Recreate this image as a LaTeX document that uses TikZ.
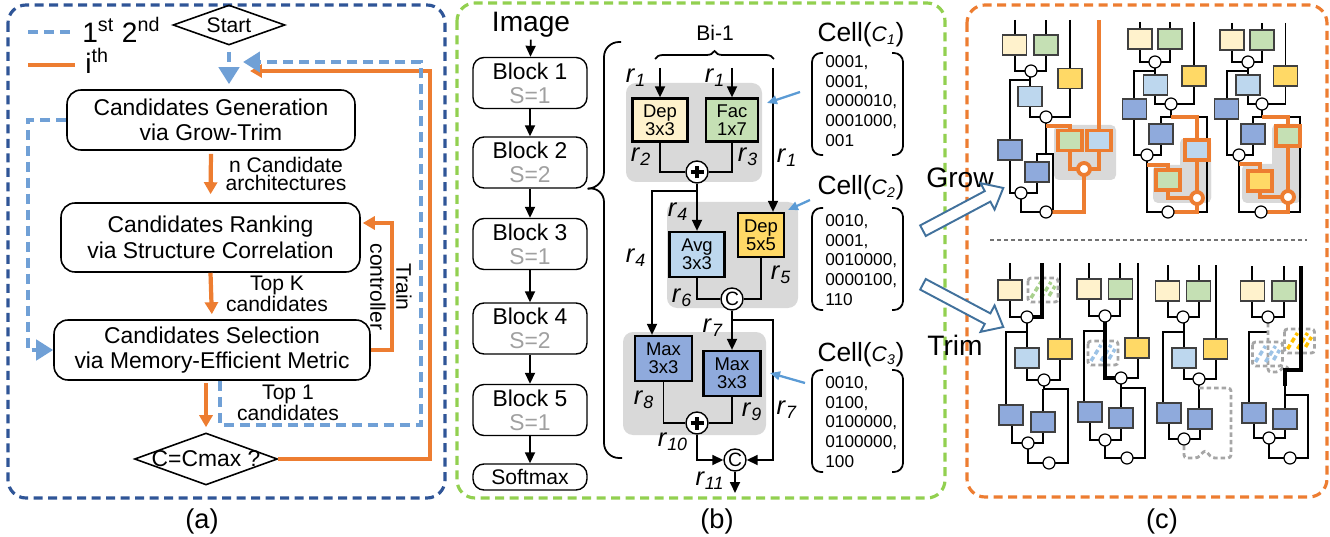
\documentclass[tikz,border=0pt]{standalone}
\usepackage{fontspec}
\setmainfont{Liberation Sans}
\usetikzlibrary{arrows.meta,calc,shapes.geometric,shapes.arrows,decorations.pathreplacing}

\definecolor{frameA}{HTML}{2F5597}
\definecolor{frameB}{HTML}{92D050}
\definecolor{frameC}{HTML}{ED7D31}
\definecolor{firstpass}{HTML}{70A0D6}
\definecolor{ithpass}{HTML}{ED7D31}
\definecolor{opdep}{HTML}{FFF2CC}
\definecolor{opfac}{HTML}{C5E0B4}
\definecolor{opdepb}{HTML}{FFD966}
\definecolor{opavg}{HTML}{BDD7EE}
\definecolor{opmax}{HTML}{8FAADC}
\definecolor{cellbg}{HTML}{D9D9D9}
\definecolor{pointer}{HTML}{5B9BD5}
\definecolor{hollowblue}{HTML}{41719C}
\definecolor{stride}{HTML}{A0A0A0}
\definecolor{gonegray}{HTML}{A6A6A6}
\definecolor{hatchfac}{HTML}{A9D18E}
\definecolor{hatchavg}{HTML}{9DC3E6}
\definecolor{hatchdep}{HTML}{FFC000}

\newcommand\fsz[2]{\fontsize{#1}{#2}\selectfont}
\newcommand\rr[1]{\textit{r}\textsubscript{\textit{#1}}}
\newcommand\cellnm[1]{Cell({\fsz{12}{14}\textit{C}\textsubscript{\textit{#1}}})}
% small networks of panel (c)
\newcommand\netbox[3]{\draw[nbox,fill=#3] (#1-12,#2-10) rectangle (#1+12,#2+10);}
\newcommand\grownbox[3]{\draw[obox,fill=#3] (#1-12,#2-10) rectangle (#1+12,#2+10);}
\newcommand\gonebox[3]{\draw[gone] (#1-15,#2-12) rectangle (#1+15,#2+12);
  \draw[#3,line width=2pt,dash pattern=on 0.1cm off 0.06cm] (#1-12,#2+8) -- (#1-2,#2-8) (#1-2,#2+8) -- (#1+8,#2-8) (#1+6,#2+6) -- (#1+12,#2-4);}
\newcommand\junc[2]{\draw[nline,fill=white] (#1,#2) circle (0.12cm);}
\newcommand\ojunc[2]{\draw[mline,fill=white] (#1,#2) circle (0.12cm);}

\tikzset{
  stepbox/.style={draw, rounded corners=0.28cm, line width=0.9pt, align=center, font=\fsz{13}{14.5}, inner sep=0},
  decision/.style={draw, diamond, line width=0.9pt, inner sep=0},
  oarr/.style={draw=ithpass, line width=2.4pt, -{Triangle[width=0.26cm,length=0.24cm]}},
  oline/.style={draw=ithpass, line width=2.4pt},
  barr/.style={draw=firstpass, line width=2.4pt, dash pattern=on 0.2cm off 0.12cm, -{Triangle[width=0.4cm,length=0.34cm]}},
  bline/.style={draw=firstpass, line width=2.4pt, dash pattern=on 0.2cm off 0.12cm},
  edgelbl/.style={align=center, font=\fsz{12}{10.5}, inner sep=0},
  panelframe/.style={line width=1.8pt, rounded corners=0.36cm, dash pattern=on 0.18cm off 0.11cm},
  blockbox/.style={draw, rounded corners=0.22cm, line width=0.8pt, minimum width=2.28cm, minimum height=1.02cm, align=center, font=\fsz{13}{13.5}, inner sep=0},
  opbox/.style={draw, line width=1.3pt, align=center, font=\fsz{10.5}{10.5}, inner sep=0},
  junc/.style={circle, draw, fill=white, line width=0.8pt, minimum size=0.44cm, inner sep=0, font=\fsz{11}{11}},
  plusj/.style={junc, path picture={\draw[line width=1.9pt]
      ([xshift=-0.13cm]path picture bounding box.center) -- ([xshift=0.13cm]path picture bounding box.center)
      ([yshift=-0.13cm]path picture bounding box.center) -- ([yshift=0.13cm]path picture bounding box.center);}},
  arr/.style={line width=1pt, -{Triangle[width=0.2cm,length=0.22cm]}},
  wire/.style={line width=1pt},
  rlab/.style={font=\fsz{14.5}{14.5}, inner sep=0},
  bits/.style={font=\fsz{9.8}{9.8}, inner sep=0, anchor=west},
  ptr/.style={draw=pointer, line width=1.3pt, -{Triangle[width=0.17cm,length=0.2cm]}},
  bgcell/.style={fill=cellbg, rounded corners=0.2cm},
  nline/.style={line width=0.7pt},
  nbox/.style={draw=black!75, line width=0.8pt},
  obox/.style={draw=ithpass, line width=2.2pt},
  mline/.style={draw=ithpass, line width=2.2pt},
  gone/.style={draw=gonegray, line width=1.6pt, dash pattern=on 0.09cm off 0.06cm, rounded corners=0.06cm},
  trimpath/.style={line width=2.3pt},
  hollowarr/.style={single arrow, draw=hollowblue, fill=white, line width=1.1pt, minimum height=1.82cm,
      minimum width=0.56cm, single arrow head extend=0.18cm, inner sep=0.1cm, single arrow tip angle=80},
  plabel/.style={font=\fsz{15.5}{15.5}}
}

\begin{document}
\begin{tikzpicture}[x=0.02cm,y=-0.02cm]
\useasboundingbox (0,0) rectangle (1330,537);

%%%%% (a) search flow %%%%%
\draw[panelframe, draw=frameA] (8,5) rectangle (445,498);

\draw[bline] (28,32) -- (75,32);
\node[anchor=west, font=\fsz{16}{16}, inner sep=0] (leg1) at (82,30) {1\textsuperscript{st} 2\textsuperscript{nd}};
\draw[oline] (28,65) -- (75,65);
\node[anchor=west, font=\fsz{16}{16}, inner sep=0] (leg2) at (85,61) {i\textsuperscript{th}};

\node[decision, minimum width=2.24cm, minimum height=0.8cm] (start) at (229,25) {};
\node[font=\fsz{12}{12}] (starttxt) at (start) {Start};
\node[stepbox, minimum width=5.76cm, minimum height=1.2cm] (gen) at (211,120) {Candidates Generation\\via Grow-Trim};
\node[stepbox, minimum width=5.98cm, minimum height=1.38cm] (rank) at (210.5,237.5) {Candidates Ranking\\via Structure Correlation};
\node[stepbox, minimum width=6.32cm, minimum height=1.2cm] (sel) at (212,350) {Candidates Selection\\via Memory-Efficient Metric};
\node[decision, minimum width=2.86cm, minimum height=1.04cm] (cmax) at (206,459) {};
\node[font=\fsz{13}{13}] (cmaxtxt) at (cmax) {C=Cmax ?};

\draw[oarr, shorten <=0.06cm, shorten >=0.16cm] (gen.south) -- (rank.north);
\draw[oarr, shorten >=0.1cm] (rank.south) -- (sel.north);
\draw[oarr, shorten <=0.04cm, shorten >=0.1cm] (sel.south -| cmax.north) -- (cmax.north);
\node[edgelbl] (lgen) at (286,174) {n Candidate\\architectures};
\node[edgelbl] (lrank) at (277,294) {Top K\\candidates};
\node[edgelbl] (lsel) at (288,403) {Top 1\\candidates};

% train controller
\coordinate (trn) at (392,223);
\draw[oarr, shorten >=0.04cm] (sel.east) -| (trn) -- (trn -| rank.east);
\node[font=\fsz{12}{12}, rotate=-90, inner sep=0] (lctrl) at (378,287) {controller};
\node[font=\fsz{12}{12}, rotate=-90, inner sep=0] (ltrain) at (404,287) {Train};

% loops back to generation
\coordinate (ocorner) at (430,71);
\coordinate (oback) at (250,71);
\draw[oarr] (cmax.east) -| (ocorner) -- (oback);
\coordinate (bdrop) at (220,425);
\coordinate (bcorner) at (421,62);
\coordinate (bback) at (243,62);
\draw[barr] (bdrop |- sel.south) -- (bdrop) -| (bcorner) -- (bback);
\coordinate (bleft) at (28,120);
\draw[barr] (gen.west) -- (bleft) |- (sel.west);
\draw[barr, shorten <=0.12cm, shorten >=0.1cm] (start.south) -- (start.south |- gen.north);

\node[plabel] (capa) at (202,521) {(a)};

%%%%% (b) network and cells %%%%%
\draw[panelframe, draw=frameB] (457,3) rectangle (945,498);

\node[font=\fsz{16}{16}, inner sep=1pt] (img) at (531,25) {Image};
\node[blockbox] (b1) at (530,83) {Block 1\\\textcolor{stride}{S=1}};
\node[blockbox] (b2) at (530,162.5) {Block 2\\\textcolor{stride}{S=2}};
\node[blockbox] (b3) at (530,244) {Block 3\\\textcolor{stride}{S=1}};
\node[blockbox] (b4) at (530,328.5) {Block 4\\\textcolor{stride}{S=2}};
\node[blockbox] (b5) at (530,410) {Block 5\\\textcolor{stride}{S=1}};
\node[blockbox, minimum height=0.52cm, font=\fsz{12}{12}] (smax) at (530,477) {Softmax};
\foreach \a/\b in {img/b1,b1/b2,b2/b3,b3/b4,b4/b5,b5/smax}
  \draw[arr] (\a) -- (\b);

\draw[wire, rounded corners=0.3cm] (621,42) -- (604,42) -- (604,187) -- (b2.south east);
\draw[wire, rounded corners=0.3cm] (b2.south east) -- (604,187) -- (604,458) -- (622,458);

\fill[bgcell] (626,83) rectangle (762,182);
\fill[bgcell] (667,202) rectangle (798,308);
\fill[bgcell] (623,332) rectangle (766,435);

\draw[wire, decorate, decoration={brace, amplitude=0.16cm}] (655,59) -- (774,59);
\node[font=\fsz{12}{12}] (bilbl) at (715,33) {Bi-1};

\node[opbox, fill=opdep, minimum width=1.1cm, minimum height=0.86cm] (dep3) at (660,120) {Dep\\3x3};
\node[opbox, fill=opfac, minimum width=1.04cm, minimum height=0.86cm] (fac7) at (732,120) {Fac\\1x7};
\node[plusj] (add1) at (697,172) {};
\node[opbox, fill=opavg, minimum width=1.1cm, minimum height=0.9cm] (avg3) at (697,254.5) {Avg\\3x3};
\node[opbox, fill=opdepb, minimum width=0.92cm, minimum height=0.88cm] (dep5) at (761,235) {Dep\\5x5};
\node[junc] (cat1) at (732,299) {C};
\node[opbox, fill=opmax, minimum width=1.14cm, minimum height=0.9cm] (maxa) at (663.5,358.5) {Max\\3x3};
\node[opbox, fill=opmax, minimum width=1.14cm, minimum height=0.9cm] (maxb) at (732,373.5) {Max\\3x3};
\node[plusj] (add2) at (697,423) {};
\node[junc] (cat2) at (735,460) {C};

\coordinate (in1) at (660,68);
\coordinate (in2) at (732,68);
\coordinate (in3) at (773,68);
\draw[arr] (in1) -- (dep3);
\draw[arr] (in2) -- (fac7);
\draw[arr] (in3) -- (in3 |- dep5.north);
\draw[wire] (dep3) |- (add1);
\draw[wire] (fac7) |- (add1);
\draw[arr] (add1) -- (avg3);
\coordinate (fork4) at (697,191);
\coordinate (drop4) at (652,191);
\draw[arr] (fork4) -- (drop4) -- (drop4 |- maxa.north);
\draw[wire] (avg3) |- (cat1);
\draw[wire] (dep5) |- (cat1);
\draw[arr] (cat1) -- (maxb);
\coordinate (fork7) at (732,320);
\coordinate (skip7) at (773,320);
\draw[arr] (fork7) -- (skip7) |- (cat2);
\draw[wire] (maxa) |- (add2);
\draw[wire] (maxb) |- (add2);
\draw[arr] (add2) |- (cat2);
\coordinate (outr) at (735,493);
\draw[arr] (cat2) -- (outr);

\node[rlab] (r1a) at (636,78) {\rr{1}};
\node[rlab] (r1b) at (715,78) {\rr{1}};
\node[rlab] (r1c) at (787,158) {\rr{1}};
\node[rlab] (r2) at (641,157) {\rr{2}};
\node[rlab] (r3) at (748,157) {\rr{3}};
\node[rlab] (r4a) at (678,212) {\rr{4}};
\node[rlab] (r4b) at (636,258) {\rr{4}};
\node[rlab] (r5) at (781,275) {\rr{5}};
\node[rlab] (r6) at (682,298) {\rr{6}};
\node[rlab] (r7a) at (713,328) {\rr{7}};
\node[rlab] (r7b) at (787,410) {\rr{7}};
\node[rlab] (r8) at (644,400) {\rr{8}};
\node[rlab] (r9) at (752,412) {\rr{9}};
\node[rlab] (r10) at (673,442) {\rr{10}};
\node[rlab] (r11) at (710,481) {\rr{11}};

% cell encodings
\node[font=\fsz{15}{15}, inner sep=0] (cn1) at (861,35) {\cellnm{1}};
\node[font=\fsz{15}{15}, inner sep=0] (cn2) at (861,188) {\cellnm{2}};
\node[font=\fsz{15}{15}, inner sep=0] (cn3) at (861,355) {\cellnm{3}};
\foreach \top/\bot in {53/155,208/310,370/472}{
  \draw[wire, rounded corners=0.18cm] (823,\top) -- (812,\top) -- (812,\bot) -- (823,\bot);
  \draw[wire, rounded corners=0.18cm] (892,\top) -- (903,\top) -- (903,\bot) -- (892,\bot);
}
\foreach \t [count=\i from 0] in {{0001,},{0001,},{0000010,},{0001000,},{001}}
  \node[bits] (ca\i) at (825,63+19.5*\i) {\t};
\foreach \t [count=\i from 0] in {{0010,},{0001,},{0010000,},{0000100,},{110}}
  \node[bits] (cb\i) at (825,222+19.5*\i) {\t};
\foreach \t [count=\i from 0] in {{0010,},{0100,},{0100000,},{0100000,},{100}}
  \node[bits] (cc\i) at (825,384+19.5*\i) {\t};

\coordinate (p1s) at (800,92);  \coordinate (p1e) at (767,103);
\coordinate (p2s) at (810,200); \coordinate (p2e) at (788,210);
\coordinate (p3s) at (805,383); \coordinate (p3e) at (770,373);
\draw[ptr] (p1s) -- (p1e);
\draw[ptr] (p2s) -- (p2e);
\draw[ptr] (p3s) -- (p3e);

\node[plabel] (capb) at (717,521) {(b)};

%%%%% (c) grow and trim %%%%%
\draw[panelframe, draw=frameC] (967,5) rectangle (1327,497);

\node[font=\fsz{16}{16}] (grow) at (960,178) {Grow};
\node[font=\fsz{16}{16}] (trim) at (955,345) {Trim};
\node[hollowarr, rotate=28] (growarr) at (960,211) {};
\node[hollowarr, rotate=-28] (trimarr) at (960,304) {};
\draw[black!55, line width=1.1pt, dash pattern=on 0.08cm off 0.06cm] (990,240) -- (1307,240);

% grow 1
\fill[cellbg, rounded corners=0.1cm] (1054,125) rectangle (1116,180);
\draw[nline] (1015,20) -- (1015,71) -- (1046,71) -- (1046,20);
\draw[nline] (1070,20) -- (1070,117) -- (1030,117) -- (1030,71);
\draw[nline] (1031,80) -- (1010,80) -- (1010,193) -- (1037,193) -- (1037,154) -- (1053,154) -- (1053,212) -- (1021,212) -- (1021,193);
\draw[nline] (1046,117) -- (1046,154);
\draw[mline] (1099,20) -- (1099,169) -- (1070,169) -- (1070,126) -- (1046,126);
\draw[mline] (1084,169) -- (1084,212) -- (1052,212);
\netbox{1014.5}{45}{opdep} \netbox{1046}{45}{opfac} \netbox{1070}{78.5}{opdepb}
\netbox{1030}{96.5}{opavg} \netbox{1010}{150}{opmax} \netbox{1037}{172}{opmax}
\grownbox{1070}{140.5}{opfac} \grownbox{1099}{140.5}{opavg}
\junc{1031}{71} \junc{1046}{117} \junc{1021}{193} \junc{1046}{212} \ojunc{1084}{169}

% grow 2
\fill[cellbg, rounded corners=0.1cm] (1153,165) rectangle (1211,203);
\fill[cellbg, rounded corners=0.1cm] (1180,138) rectangle (1211,203);
\draw[nline] (1140,22) -- (1140,62) -- (1170,62) -- (1170,22);
\draw[nline] (1194,22) -- (1194,104) -- (1155,104) -- (1155,62);
\draw[nline] (1155,71) -- (1134,71) -- (1134,155) -- (1161,155) -- (1161,117) -- (1207,117) -- (1207,212) -- (1147,212) -- (1147,155);
\draw[nline] (1171,104) -- (1171,117);
\draw[mline] (1171,117) -- (1197,117) -- (1197,212) -- (1173,212);
\draw[mline] (1147,165) -- (1168,165) -- (1168,198) -- (1197,198);
\netbox{1140}{39}{opdep} \netbox{1170}{39}{opfac} \netbox{1194}{76}{opdepb}
\netbox{1155.5}{85}{opavg} \netbox{1134.5}{109}{opmax} \netbox{1161}{134}{opmax}
\grownbox{1168}{180}{opfac} \grownbox{1197}{150}{opavg}
\junc{1155}{62} \junc{1171}{104} \junc{1147}{155} \junc{1168}{212} \ojunc{1197}{198}

% grow 3
\fill[cellbg, rounded corners=0.1cm] (1242,164) rectangle (1301,203);
\fill[cellbg, rounded corners=0.1cm] (1272,124) rectangle (1301,203);
\draw[nline] (1232,23) -- (1232,62) -- (1262,62) -- (1262,23);
\draw[nline] (1285.5,23) -- (1285.5,104) -- (1248,104) -- (1248,62);
\draw[nline] (1248,71) -- (1227,71) -- (1227,155) -- (1253,155) -- (1253,117) -- (1300,117) -- (1300,212) -- (1239,212) -- (1239,155);
\draw[nline] (1262,104) -- (1262,117);
\draw[mline] (1262,117) -- (1288,117) -- (1288,212) -- (1266,212);
\draw[mline] (1239,164) -- (1260,164) -- (1260,197) -- (1288,197);
\netbox{1232}{40}{opdep} \netbox{1262}{40}{opfac} \netbox{1285.5}{76}{opdepb}
\netbox{1248}{85}{opavg} \netbox{1226.5}{109}{opmax} \netbox{1253}{134}{opmax}
\grownbox{1288}{136}{opfac} \grownbox{1260}{181}{opdepb}
\junc{1248}{62} \junc{1262}{104} \junc{1239}{155} \junc{1261}{212} \ojunc{1288}{197}

% trim 1
\draw[nline] (1010,263) -- (1010,317) -- (1027,317);
\draw[nline] (1060,263) -- (1060,380) -- (1027,380) -- (1027,317);
\draw[nline] (1027,332) -- (1006,332) -- (1006,410);
\draw[nline] (1012,420) -- (1012,443) -- (1043,443) -- (1043,389);
\draw[nline] (1044,380) -- (1044,389) -- (1068,389) -- (1068,463) -- (1028,463) -- (1028,443);
\gonebox{1043}{290}{hatchfac}
\draw[trimpath] (1042,263) -- (1042,317) -- (1027,317);
\netbox{1010}{290}{opdep} \netbox{1060}{349}{opdepb} \netbox{1027}{358}{opavg}
\netbox{1011}{415}{opmax} \netbox{1043}{422}{opmax}
\junc{1027}{317} \junc{1044}{380} \junc{1028}{443} \junc{1049}{463}

% trim 2
\draw[nline] (1089,263) -- (1089,316) -- (1120,316) -- (1120,263);
\draw[nline] (1138,263) -- (1138,378) -- (1121,378);
\draw[nline] (1105,331) -- (1084,331) -- (1084,405);
\draw[nline] (1090,420) -- (1090,440) -- (1121,440) -- (1121,388);
\draw[nline] (1121,378) -- (1121,388) -- (1145,388) -- (1145,458) -- (1105,458) -- (1105,440);
\gonebox{1103}{353}{hatchavg}
\draw[trimpath] (1105,322) -- (1105,378) -- (1121,378);
\netbox{1089}{289}{opdep} \netbox{1120.5}{289}{opfac} \netbox{1137}{348}{opdepb}
\netbox{1090}{412}{opmax} \netbox{1121}{418}{opmax}
\junc{1105}{316} \junc{1121}{378} \junc{1105}{440} \junc{1127}{458}

% trim 3
\draw[nline] (1168,265) -- (1168,317) -- (1199,317) -- (1199,265);
\draw[nline] (1216,265) -- (1216,379) -- (1184,379) -- (1184,317);
\draw[nline] (1183,332) -- (1163,332) -- (1163,408);
\draw[nline] (1169,420) -- (1169,439) -- (1200,439) -- (1200,409);
\draw[nline] (1199,379) -- (1199,409);
\draw[gone] (1199,388) -- (1231,388) -- (1231,458) -- (1212,458) -- (1205,450) -- (1198,458) -- (1184,458) -- (1184,445);
\netbox{1167.5}{291}{opdep} \netbox{1198.5}{291}{opfac} \netbox{1215.5}{349}{opdepb}
\netbox{1184}{358}{opavg} \netbox{1169}{413}{opmax} \netbox{1200}{419}{opmax}
\junc{1183}{317} \junc{1199}{379} \junc{1184}{439}

% trim 4
\draw[nline] (1252,266) -- (1252,317) -- (1284,317) -- (1284,266);
\draw[nline] (1268,332) -- (1249,332) -- (1249,408);
\draw[nline] (1254,420) -- (1254,438) -- (1285,438) -- (1285,385);
\draw[nline] (1285,395) -- (1308,395) -- (1308,458) -- (1269,458) -- (1269,438);
\draw[gone] (1268,323) -- (1268,372) -- (1279,372) -- (1285,365) -- (1291,372);
\gonebox{1267.5}{354}{hatchavg}
\gonebox{1299.5}{341}{hatchdep}
\draw[trimpath] (1301,266) -- (1301,370) -- (1285,370) -- (1285,386);
\netbox{1252.5}{291}{opdep} \netbox{1284}{291}{opfac}
\netbox{1254}{413}{opmax} \netbox{1285}{419}{opmax}
\junc{1268}{317} \junc{1269}{438} \junc{1290}{458}

\node[plabel] (capc) at (1162,521) {(c)};

\end{tikzpicture}
\end{document}
